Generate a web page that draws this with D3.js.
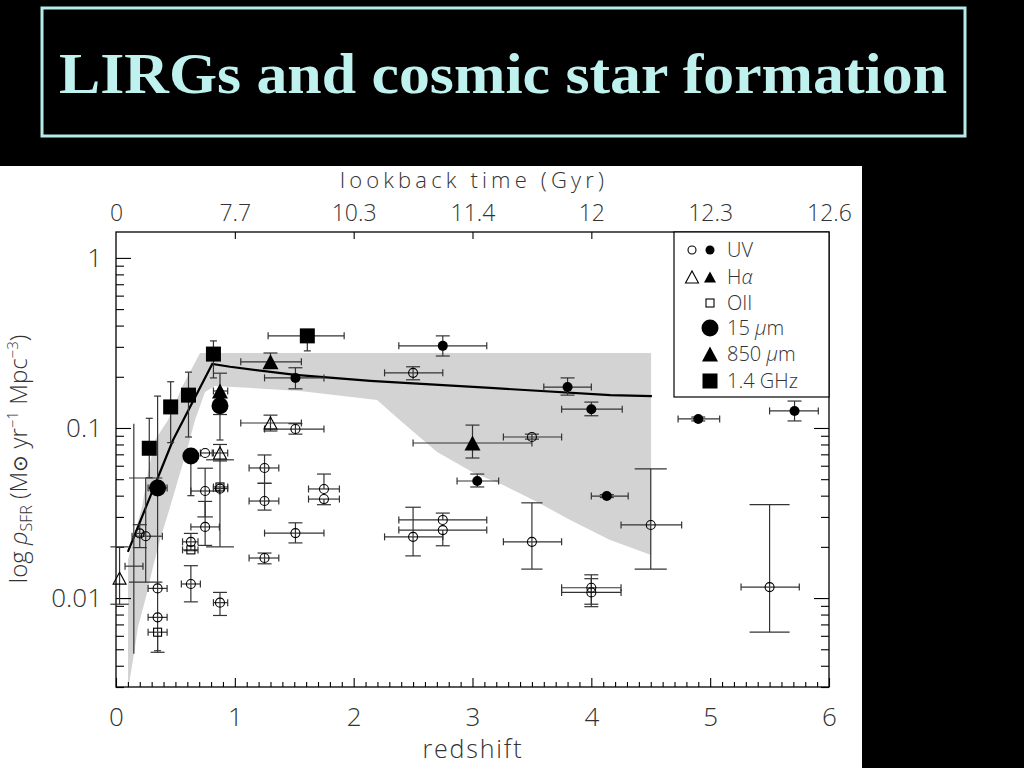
<!DOCTYPE html>
<html><head><meta charset="utf-8">
<script src="https://cdn.jsdelivr.net/npm/d3@7"></script>
<style>
html,body{margin:0;padding:0;background:#000;}
svg{display:block;}
</style></head><body>
<svg id="c" width="1024" height="768"></svg>
<script>
// ---------------- DATA ----------------
const titleText = "LIRGs and cosmic star formation";
const xTicks = [0, 1, 2, 3, 4, 5, 6];
const lookbackLabels = ["0", "7.7", "10.3", "11.4", "12", "12.3", "12.6"];
const yTicks = [1, 0.1, 0.01];
const yTickLabels = ["1", "0.1", "0.01"];

// rows: [z, sfr, zLo, zHi, sfrLo, sfrHi]
const uvOpen = [
  [0.20, 0.024, 0.17, 0.23, 0.0198, 0.027],
  [0.25, 0.0231, 0.135, 0.39, 0.0124, 0.0508],
  [0.35, 0.0114, 0.27, 0.43, 0.0114, 0.0114],
  [0.35, 0.0077, 0.27, 0.43, 0.0077, 0.0077],
  [0.63, 0.0214, 0.56, 0.69, 0.019, 0.024],
  [0.63, 0.0121, 0.55, 0.71, 0.0095, 0.0155],
  [0.75, 0.0713, 0.71, 0.81, 0.0713, 0.0713],
  [0.75, 0.0426, 0.63, 0.87, 0.030, 0.058],
  [0.75, 0.0262, 0.63, 0.87, 0.0204, 0.037],
  [0.875, 0.0094, 0.82, 0.94, 0.0079, 0.0108],
  [0.875, 0.044, 0.82, 0.94, 0.020, 0.065],
  [1.51, 0.0986, 1.25, 1.75, 0.092, 0.106],
  [1.25, 0.0582, 1.12, 1.37, 0.0473, 0.0694],
  [1.25, 0.0372, 1.12, 1.37, 0.0329, 0.0473],
  [1.25, 0.0172, 1.12, 1.37, 0.0159, 0.0184],
  [1.75, 0.0438, 1.62, 1.88, 0.0438, 0.0536],
  [1.75, 0.0382, 1.62, 1.88, 0.0354, 0.0382],
  [1.51, 0.0241, 1.25, 1.75, 0.0211, 0.0277],
  [2.50, 0.211, 2.26, 2.75, 0.192, 0.229],
  [3.50, 0.0885, 3.26, 3.75, 0.086, 0.092],
  [2.75, 0.0288, 2.38, 3.12, 0.0288, 0.0316],
  [2.75, 0.0251, 2.38, 3.12, 0.0203, 0.0251],
  [2.50, 0.0229, 2.26, 2.75, 0.0177, 0.0342],
  [3.50, 0.0214, 3.26, 3.75, 0.0148, 0.0363],
  [4.00, 0.0115, 3.75, 4.25, 0.0092, 0.0137],
  [4.00, 0.0108, 3.75, 4.25, 0.0089, 0.0130],
  [4.50, 0.0269, 4.25, 4.76, 0.0148, 0.0575],
  [5.50, 0.0116, 5.26, 5.75, 0.0063, 0.0354]
];
const uvFilled = [
  [1.51, 0.197, 1.25, 1.75, 0.170, 0.226],
  [2.75, 0.304, 2.38, 3.12, 0.265, 0.348],
  [3.80, 0.174, 3.60, 4.00, 0.156, 0.197],
  [4.00, 0.129, 3.75, 4.26, 0.118, 0.142],
  [3.04, 0.0488, 2.87, 3.22, 0.045, 0.0536],
  [4.13, 0.0398, 4.00, 4.31, 0.0390, 0.0406],
  [4.90, 0.113, 4.73, 5.08, 0.110, 0.116],
  [5.71, 0.126, 5.50, 5.91, 0.110, 0.144]
];
const haOpen = [
  [0.03, 0.0131, 0.03, 0.03, 0.0092, 0.020],
  [0.875, 0.0713, 0.82, 0.94, 0.064, 0.080],
  [1.30, 0.107, 1.05, 1.56, 0.096, 0.119]
];
const oiiOpen = [
  [0.35, 0.0063, 0.27, 0.43, 0.0048, 0.0063],
  [0.63, 0.0192, 0.56, 0.69, 0.0192, 0.0192],
  [0.875, 0.045, 0.82, 0.94, 0.045, 0.045]
];
const mir15 = [
  [0.35, 0.0444, 0.27, 0.43, 0.0049, 0.154],
  [0.63, 0.0685, 0.63, 0.63, 0.040, 0.0685],
  [0.875, 0.135, 0.875, 0.875, 0.085, 0.165]
];
const smm850 = [
  [0.875, 0.165, 0.82, 0.94, 0.12, 0.21],
  [1.30, 0.245, 1.05, 1.56, 0.245, 0.276],
  [3.00, 0.0816, 2.50, 3.50, 0.0666, 0.104]
];
const radio14 = [
  [0.28, 0.076, 0.28, 0.28, 0.051, 0.114],
  [0.46, 0.133, 0.46, 0.46, 0.082, 0.187],
  [0.61, 0.156, 0.61, 0.61, 0.0885, 0.213],
  [0.82, 0.272, 0.82, 0.82, 0.197, 0.325],
  [1.61, 0.348, 1.28, 1.92, 0.284, 0.348]
];
const errOnly = [
  [0.15, 0.0154, 0.076, 0.227, 0.0047, 0.106]
];

// shaded band
const bandUpperZ = [0.101, 0.101, 0.143, 0.219, 0.269, 0.328, 0.438, 0.556, 0.707, 4.503];
const bandUpper  = [0.00288, 0.01675, 0.02194, 0.0343, 0.0544, 0.085, 0.1114, 0.1742, 0.2762, 0.2762];
const bandLowerZ = [0.101, 0.143, 0.185, 0.261, 0.311, 0.370, 0.455, 0.539, 0.598, 0.665, 0.749, 0.833, 1.549, 2.197, 2.416, 2.702, 3.013, 3.258, 3.544, 3.822, 4.158, 4.503];
const bandLower  = [0.00288, 0.00432, 0.00675, 0.0107, 0.01522, 0.02194, 0.0343, 0.0544, 0.0742, 0.1114, 0.1629, 0.1767, 0.1651, 0.1462, 0.107, 0.0722, 0.0544, 0.0462, 0.0367, 0.0288, 0.02194, 0.0179];

// model line
const fitZ   = [0.10, 0.48, 0.81, 0.96, 1.51, 2.14, 3.15, 4.16, 4.51];
const fitSfr = [0.0187, 0.085, 0.238, 0.229, 0.205, 0.189, 0.172, 0.156, 0.154];

const legendLabels = ["UV", "Hα", "OII", "15 μm", "850 μm", "1.4 GHz"];

// ---------------- DRAW ----------------
const svg = d3.select("#c");
const FONT = "'Open Sans', 'DejaVu Sans', sans-serif";
const TXT = "#333";

svg.append("rect").attr("width", 1024).attr("height", 768).attr("fill", "#000");
svg.append("rect").attr("x", 0).attr("y", 166).attr("width", 862).attr("height", 602).attr("fill", "#fff");

// title
svg.append("rect").attr("x", 42).attr("y", 8).attr("width", 923).attr("height", 128)
  .attr("fill", "none").attr("stroke", "#b3ecea").attr("stroke-width", 3);
svg.append("text").attr("x", 503).attr("y", 93).attr("text-anchor", "middle")
  .attr("font-family", "'Liberation Serif', 'Times New Roman', serif").attr("font-weight", "bold")
  .attr("font-size", 58).attr("fill", "#bff2ef")
  .attr("textLength", 888).attr("lengthAdjust", "spacingAndGlyphs")
  .text(titleText);

const L = 116, R = 829, T = 232, B = 687;
const x = d3.scaleLinear().domain([0, 6]).range([L, R]);
const y = d3.scaleLog().domain([0.003, 1.42]).range([B, T]);

// band
const bandPts = bandUpperZ.map((z, i) => [z, bandUpper[i]])
  .concat(bandLowerZ.map((z, i) => [z, bandLower[i]]).reverse());
svg.append("path")
  .attr("d", d3.line().x(d => x(d[0])).y(d => y(d[1]))(bandPts) + "Z")
  .attr("fill", "#d3d3d3").attr("stroke", "none");

// axes
function styleAxis(g, fs) {
  g.select(".domain").remove();
  g.selectAll("line").attr("stroke", "#000").attr("stroke-width", 1.1);
  g.selectAll("text").attr("font-family", FONT).attr("font-weight", 300)
    .attr("font-size", fs || 26).attr("fill", TXT);
}
const minorX = d3.range(0, 61).map(i => i / 10).filter(v => Math.abs(v - Math.round(v)) > 1e-6);
const minorY = [];
for (let k = -3; k <= 0; k++) for (let m = 2; m <= 9; m++) {
  const v = m * Math.pow(10, k);
  if (v >= 0.003 && v <= 1.42) minorY.push(v);
}
minorY.push(0.003);

svg.append("g").attr("transform", `translate(0,${B})`)
  .call(d3.axisBottom(x).tickValues(minorX).tickSize(-5).tickFormat("")).call(g => styleAxis(g));
svg.append("g").attr("transform", `translate(0,${B})`)
  .call(d3.axisBottom(x).tickValues(xTicks).tickSize(-9).tickPadding(21).tickFormat(d3.format("d"))).call(g => styleAxis(g));
svg.append("g").attr("transform", `translate(0,${T})`)
  .call(d3.axisTop(x).tickValues(xTicks.slice(1, -1)).tickSize(-7).tickFormat("")).call(g => styleAxis(g));
svg.append("g").attr("transform", `translate(0,${T})`)
  .call(d3.axisTop(x).tickValues(xTicks).tickSize(0).tickPadding(11).tickFormat((d, i) => lookbackLabels[i])).call(g => styleAxis(g, 23));
svg.append("g").attr("transform", `translate(${L},0)`)
  .call(d3.axisLeft(y).tickValues(minorY).tickSize(-8).tickFormat("")).call(g => styleAxis(g));
svg.append("g").attr("transform", `translate(${L},0)`)
  .call(d3.axisLeft(y).tickValues(yTicks).tickSize(-15).tickPadding(14).tickFormat((d, i) => yTickLabels[i])).call(g => styleAxis(g));
svg.append("g").attr("transform", `translate(${R},0)`)
  .call(d3.axisRight(y).tickValues(minorY).tickSize(-8).tickFormat("")).call(g => styleAxis(g));
svg.append("g").attr("transform", `translate(${R},0)`)
  .call(d3.axisRight(y).tickValues(yTicks).tickSize(-15).tickFormat("")).call(g => styleAxis(g));

svg.append("rect").attr("x", L).attr("y", T).attr("width", R - L).attr("height", B - T)
  .attr("fill", "none").attr("stroke", "#000").attr("stroke-width", 1.3);

// axis titles
svg.append("text").attr("x", 472).attr("y", 758).attr("text-anchor", "middle")
  .attr("font-family", FONT).attr("font-weight", 300).attr("font-size", 25).attr("fill", TXT)
  .attr("textLength", 99).text("redshift");
svg.append("text").attr("x", 472).attr("y", 188).attr("text-anchor", "middle")
  .attr("font-family", FONT).attr("font-weight", 300).attr("font-size", 22).attr("fill", TXT)
  .attr("textLength", 264).text("lookback time (Gyr)");

const yt = svg.append("text").attr("transform", "translate(27,459) rotate(-90)")
  .attr("text-anchor", "middle").attr("font-family", FONT).attr("font-weight", 300)
  .attr("font-size", 24).attr("fill", TXT);
yt.append("tspan").text("log ");
yt.append("tspan").attr("font-style", "italic").text("ρ");
yt.append("tspan").attr("font-size", 16).attr("dy", 5).text("SFR");
yt.append("tspan").attr("dy", -5).text(" (M");
yt.append("tspan").attr("font-family", "'DejaVu Sans', sans-serif").attr("font-size", 20).text("⊙");
yt.append("tspan").text(" yr");
yt.append("tspan").attr("font-size", 15).attr("dy", -9).text("−1");
yt.append("tspan").attr("dy", 9).text(" Mpc");
yt.append("tspan").attr("font-size", 15).attr("dy", -9).text("−3");
yt.append("tspan").attr("dy", 9).text(")");

// fit line
svg.append("path")
  .attr("d", d3.line().x((d, i) => x(fitZ[i])).y((d, i) => y(fitSfr[i]))(fitZ))
  .attr("fill", "none").attr("stroke", "#000").attr("stroke-width", 2.2);

// error bars
const eg = svg.append("g").attr("stroke", "#333").attr("stroke-width", 1.2).attr("fill", "none");
function errorBars(rows, capFixed) {
  rows.forEach(r => {
    const [z, s, zl, zh, lo, hi] = r;
    const cx = x(z), cy = y(s);
    if (hi > lo) {
      const y1 = y(lo), y2 = y(hi);
      eg.append("line").attr("x1", cx).attr("x2", cx).attr("y1", y1).attr("y2", y2);
      const len = Math.abs(y1 - y2);
      if (capFixed >= 0) {
        const ch = capFixed || Math.max(7, Math.min(20, 0.16 * len));
        if (lo < s) eg.append("line").attr("x1", cx - ch).attr("x2", cx + ch).attr("y1", y1).attr("y2", y1);
        if (hi > s) eg.append("line").attr("x1", cx - ch).attr("x2", cx + ch).attr("y1", y2).attr("y2", y2);
      }
    }
    if (zh > zl) {
      const x1 = x(zl), x2 = x(zh);
      eg.append("line").attr("x1", x1).attr("x2", x2).attr("y1", cy).attr("y2", cy);
      eg.append("line").attr("x1", x1).attr("x2", x1).attr("y1", cy - 3.5).attr("y2", cy + 3.5);
      eg.append("line").attr("x1", x2).attr("x2", x2).attr("y1", cy - 3.5).attr("y2", cy + 3.5);
    }
  });
}
errorBars(errOnly, -1);
errorBars(uvOpen, 0);
errorBars(uvFilled, 0);
errorBars(haOpen, 0);
errorBars(oiiOpen, 0);
errorBars(mir15, 3.5);
errorBars(smm850, 0);
errorBars(radio14, 3.5);

// markers
const mg = svg.append("g");
function tri(cx, cy, w, h) {
  return `M${cx - w / 2},${cy + h / 2}L${cx + w / 2},${cy + h / 2}L${cx},${cy - h / 2}Z`;
}
const markers = {
  uvOpen: (g, cx, cy) => g.append("circle").attr("cx", cx).attr("cy", cy).attr("r", 4.5).attr("fill", "none").attr("stroke", "#000").attr("stroke-width", 1.1),
  uvFilled: (g, cx, cy) => g.append("circle").attr("cx", cx).attr("cy", cy).attr("r", 5).attr("fill", "#000"),
  haOpen: (g, cx, cy) => g.append("path").attr("d", tri(cx, cy, 13, 12)).attr("fill", "none").attr("stroke", "#000").attr("stroke-width", 1.1),
  oiiOpen: (g, cx, cy) => g.append("rect").attr("x", cx - 4).attr("y", cy - 4).attr("width", 8).attr("height", 8).attr("fill", "none").attr("stroke", "#000").attr("stroke-width", 1.1),
  mir15: (g, cx, cy) => g.append("circle").attr("cx", cx).attr("cy", cy).attr("r", 8.5).attr("fill", "#000"),
  smm850: (g, cx, cy) => g.append("path").attr("d", tri(cx, cy, 16, 15)).attr("fill", "#000"),
  radio14: (g, cx, cy) => g.append("rect").attr("x", cx - 7.5).attr("y", cy - 7.5).attr("width", 15).attr("height", 15).attr("fill", "#000")
};
const series = { uvOpen, uvFilled, haOpen, oiiOpen, mir15, smm850, radio14 };
Object.keys(series).forEach(k => series[k].forEach(r => markers[k](mg, x(r[0]), y(r[1]))));

// legend
const lg = svg.append("g");
lg.append("rect").attr("x", 674).attr("y", T).attr("width", R - 674).attr("height", 397 - T)
  .attr("fill", "#fff").attr("stroke", "#000").attr("stroke-width", 1.2);
const rowsY = [250, 277, 303, 328, 354, 381];
markers.uvOpen(lg, 692, rowsY[0]).attr("r", 4);
markers.uvFilled(lg, 710, rowsY[0]).attr("r", 4.5);
markers.haOpen(lg, 692, rowsY[1]);
markers.smm850(lg, 710, rowsY[1]).attr("d", tri(710, rowsY[1], 12, 11));
markers.oiiOpen(lg, 710, rowsY[2]).attr("x", 706).attr("y", rowsY[2] - 4);
markers.mir15(lg, 710, rowsY[3]);
markers.smm850(lg, 710, rowsY[4]);
markers.radio14(lg, 710, rowsY[5]);
legendLabels.forEach((t, i) => {
  const te = lg.append("text").attr("x", 727).attr("y", rowsY[i] + 7)
    .attr("font-family", FONT).attr("font-weight", 300).attr("font-size", 20).attr("fill", TXT);
  if (t === "Hα") { te.append("tspan").text("H"); te.append("tspan").attr("font-style", "italic").text("α"); }
  else if (t.includes("μ")) { const p = t.split("μ"); te.append("tspan").text(p[0]); te.append("tspan").attr("font-style", "italic").text("μ"); te.append("tspan").text(p[1]); }
  else te.text(t);
});
</script>
</body></html>
